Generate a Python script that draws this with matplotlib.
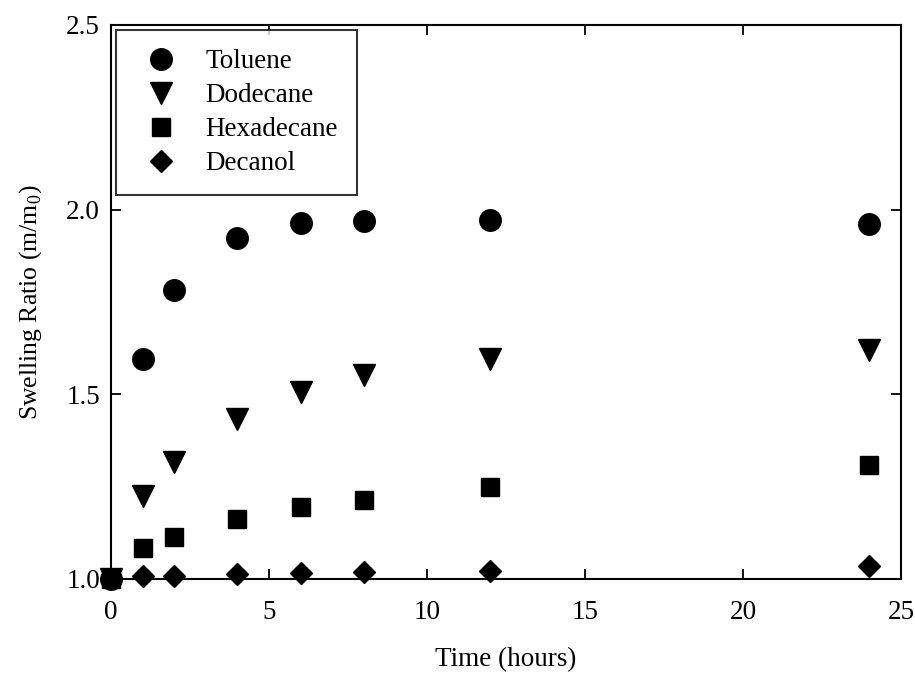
import matplotlib
matplotlib.use("Agg")
import matplotlib.pyplot as plt

plt.rcParams['font.family'] = ['Liberation Serif', 'DejaVu Serif']
plt.rcParams['mathtext.fontset'] = 'custom'
plt.rcParams['mathtext.rm'] = 'Liberation Serif'

time_h = [0, 1, 2, 4, 6, 8, 12, 24]
toluene = [1.0, 1.596, 1.783, 1.924, 1.965, 1.970, 1.973, 1.962]
dodecane = [1.0, 1.225, 1.317, 1.434, 1.507, 1.553, 1.596, 1.620]
hexadecane = [1.0, 1.084, 1.114, 1.163, 1.195, 1.214, 1.249, 1.309]
decanol = [1.0, 1.008, 1.008, 1.014, 1.016, 1.019, 1.022, 1.035]

series_names = ["Toluene", "Dodecane", "Hexadecane", "Decanol"]
xticks = [0, 5, 10, 15, 20, 25]
yticks = [1.0, 1.5, 2.0, 2.5]

FS = 19.5

fig = plt.figure(figsize=(9.15, 6.73), dpi=100)
ax = fig.add_axes([0.1213, 0.1397, 0.9847 - 0.1213, 0.9629 - 0.1397])

styles = [("o", 15.5), ("v", 16), ("s", 13.5), ("D", 11.5)]
for vals, name, (mk, ms) in zip([toluene, dodecane, hexadecane, decanol], series_names, styles):
    ax.plot(time_h, vals, linestyle="none", marker=mk, markersize=ms,
            color="black", markeredgecolor="black", label=name, clip_on=False, zorder=3)

ax.set_xlim(0, 25)
ax.set_ylim(1.0, 2.5)
ax.set_xticks(xticks)
ax.set_yticks(yticks)
ax.set_xticklabels([str(t) for t in xticks])
ax.set_yticklabels([f"{v:.1f}" for v in yticks])
ax.tick_params(direction="in", length=7, width=1.3, labelsize=FS, top=True, right=True)
ax.tick_params(axis="x", pad=15)
ax.tick_params(axis="y", pad=8)
for s in ax.spines.values():
    s.set_linewidth(1.5)

ax.set_xlabel("Time (hours)", fontsize=FS, labelpad=16)
ax.set_ylabel("Swelling Ratio (m/m$_0$)", fontsize=18.5, labelpad=16)

leg = ax.legend(loc="upper left", fontsize=FS, frameon=True, fancybox=False,
                borderaxespad=0.2, borderpad=0.7, labelspacing=0.33,
                handletextpad=0.7, handlelength=1.9, markerscale=1.0)
leg.get_frame().set_edgecolor("black")
leg.get_frame().set_linewidth(1.5)

fig.savefig("out.png", dpi=100)
